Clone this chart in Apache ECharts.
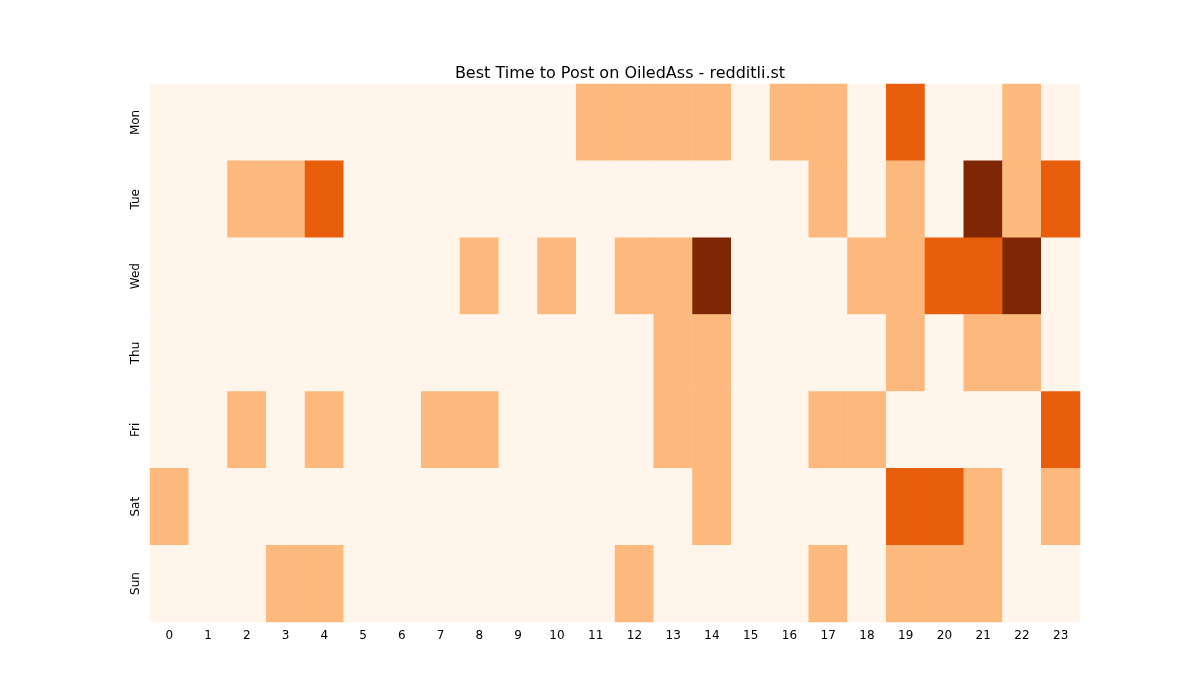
<!DOCTYPE html>
<html><head><meta charset="utf-8">
<script src="https://cdn.jsdelivr.net/npm/echarts@6/dist/echarts.min.js"></script>
<style>html,body{margin:0;background:#fff}#c{width:1200px;height:700px}</style>
</head><body><div id="c"></div>
<script>
const hours = ['0','1','2','3','4','5','6','7','8','9','10','11','12','13','14','15','16','17','18','19','20','21','22','23'];
const days = ['Mon','Tue','Wed','Thu','Fri','Sat','Sun'];
const mon = [0,0,0,0,0,0,0,0,0,0,0,1,1,1,1,0,1,1,0,2,0,0,1,0];
const tue = [0,0,1,1,2,0,0,0,0,0,0,0,0,0,0,0,0,1,0,1,0,3,1,2];
const wed = [0,0,0,0,0,0,0,0,1,0,1,0,1,1,3,0,0,0,1,1,2,2,3,0];
const thu = [0,0,0,0,0,0,0,0,0,0,0,0,0,1,1,0,0,0,0,1,0,1,1,0];
const fri = [0,0,1,0,1,0,0,1,1,0,0,0,0,1,1,0,0,1,1,0,0,0,0,2];
const sat = [1,0,0,0,0,0,0,0,0,0,0,0,0,0,1,0,0,0,0,2,2,1,0,1];
const sun = [0,0,0,1,1,0,0,0,0,0,0,0,1,0,0,0,0,1,0,1,1,1,0,0];
const rows = [mon,tue,wed,thu,fri,sat,sun];
const data = [];
rows.forEach((r,y)=>r.forEach((v,x)=>data.push([x,y,v])));
const chart = echarts.init(document.getElementById('c'));
const font = 'DejaVu Sans';
chart.setOption({
  animation:false,
  title:{text:'Best Time to Post on OiledAss - redditli.st',left:615,top:61,textAlign:'center',
    textStyle:{fontFamily:font,fontSize:16,fontWeight:'normal',color:'#000'}},
  graphic:[{type:'text',left:'center',top:337,style:{text:'redditli.st',x:615,fontFamily:font,fontSize:26,fill:'rgba(150,120,110,0.5)'},left:550}],
  grid:{left:150,right:120,top:84,bottom:78},
  xAxis:{type:'category',data:hours,splitArea:{show:false},axisLine:{show:false},
    axisTick:{alignWithLabel:true,length:4,lineStyle:{color:'#000'}},
    axisLabel:{fontFamily:font,fontSize:12,color:'#000'}},
  yAxis:{type:'category',data:days,inverse:true,axisLine:{show:false},
    axisTick:{alignWithLabel:true,length:4,lineStyle:{color:'#000'}},
    axisLabel:{fontFamily:font,fontSize:12,color:'#000',rotate:90}},
  visualMap:{show:false,type:'piecewise',dimension:2,pieces:[
    {value:0,color:'#fff5eb'},{value:1,color:'#fdb97d'},{value:2,color:'#e95e0d'},{value:3,color:'#7f2704'}]},
  series:[{type:'heatmap',data:data,itemStyle:{borderWidth:0}}]
});
</script></body></html>
